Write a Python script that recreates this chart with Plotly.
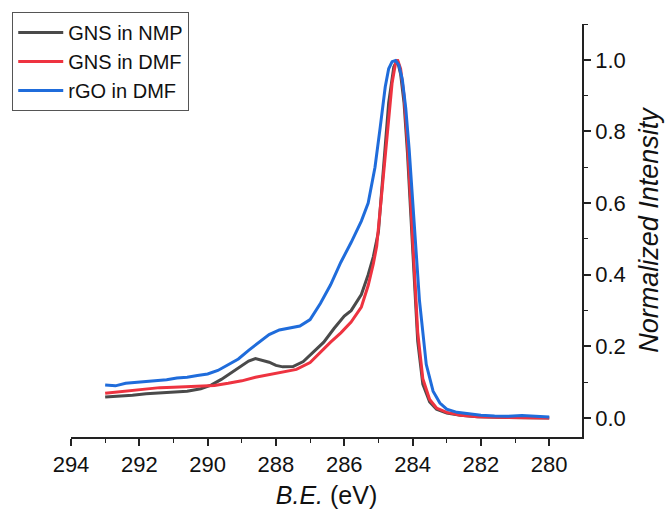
import plotly.graph_objects as go

series_names = ["GNS in NMP", "GNS in DMF", "rGO in DMF"]
series_colors = ["#4a4a4a", "#ee3340", "#1f6cdb"]

be_nmp = [293.0, 292.6, 292.2, 291.8, 291.4, 291.0, 290.6, 290.2, 289.9, 289.6, 289.3, 289.0,
          288.8, 288.6, 288.4, 288.2, 288.0, 287.8, 287.5, 287.2, 286.9, 286.6, 286.3, 286.0,
          285.8, 285.5, 285.3, 285.15, 285.0, 284.85, 284.7, 284.55, 284.45, 284.35, 284.25,
          284.15, 284.05, 283.95, 283.85, 283.7, 283.5, 283.3, 283.0, 282.6, 282.1, 281.5,
          281.0, 280.5, 280.0]
int_nmp = [0.059, 0.061, 0.064, 0.068, 0.071, 0.073, 0.075, 0.082, 0.092, 0.108, 0.128, 0.147,
           0.159, 0.166, 0.160, 0.156, 0.147, 0.143, 0.144, 0.158, 0.185, 0.212, 0.250, 0.285,
           0.300, 0.345, 0.400, 0.450, 0.520, 0.700, 0.880, 0.980, 1.000, 0.960, 0.880,
           0.740, 0.560, 0.370, 0.215, 0.095, 0.045, 0.025, 0.014, 0.008, 0.004, 0.002,
           0.001, 0.001, 0.000]

be_dmf = [293.0, 292.6, 292.2, 291.8, 291.4, 291.0, 290.6, 290.2, 289.8, 289.4, 289.0, 288.6,
          288.2, 287.8, 287.4, 287.0, 286.7, 286.4, 286.1, 285.8, 285.5, 285.3, 285.15, 285.05,
          284.9, 284.75, 284.6, 284.5, 284.44, 284.35, 284.25, 284.15, 284.05, 283.95, 283.85,
          283.7, 283.5, 283.3, 283.0, 282.6, 282.1, 281.5, 281.0, 280.5, 280.0]
int_dmf = [0.069, 0.073, 0.078, 0.082, 0.085, 0.086, 0.087, 0.088, 0.091, 0.097, 0.104, 0.114,
           0.121, 0.128, 0.136, 0.155, 0.185, 0.212, 0.238, 0.268, 0.310, 0.370, 0.430, 0.480,
           0.630, 0.790, 0.935, 0.990, 1.000, 0.975, 0.900, 0.770, 0.590, 0.400, 0.240,
           0.110, 0.052, 0.028, 0.016, 0.008, 0.004, 0.002, 0.001, 0.001, 0.000]

be_rgo = [293.0, 292.7, 292.4, 292.1, 291.8, 291.5, 291.2, 290.9, 290.6, 290.3, 290.0, 289.7,
          289.4, 289.1, 288.8, 288.5, 288.2, 287.9, 287.6, 287.3, 287.0, 286.7, 286.4, 286.1,
          285.8, 285.5, 285.3, 285.1, 284.95, 284.8, 284.7, 284.6, 284.5, 284.4, 284.3, 284.2,
          284.1, 284.0, 283.9, 283.8, 283.6, 283.4, 283.2, 283.0, 282.7, 282.4, 282.0, 281.6,
          281.2, 280.8, 280.4, 280.0]
int_rgo = [0.092, 0.090, 0.097, 0.099, 0.101, 0.104, 0.107, 0.112, 0.114, 0.119, 0.123, 0.133,
           0.150, 0.165, 0.189, 0.212, 0.233, 0.246, 0.251, 0.257, 0.275, 0.320, 0.372, 0.435,
           0.490, 0.550, 0.600, 0.700, 0.810, 0.925, 0.975, 0.995, 0.998, 0.985, 0.945, 0.865,
           0.750, 0.600, 0.458, 0.330, 0.150, 0.075, 0.042, 0.025, 0.016, 0.012, 0.008, 0.006,
           0.005, 0.007, 0.004, 0.003]

x_ticks = [294, 292, 290, 288, 286, 284, 282, 280]
y_ticks = [0.0, 0.2, 0.4, 0.6, 0.8, 1.0]

FONT = "Liberation Sans, Arial, sans-serif"

fig = go.Figure()
for name, color, xs, ys in zip(series_names, series_colors,
                               [be_nmp, be_dmf, be_rgo], [int_nmp, int_dmf, int_rgo]):
    fig.add_trace(go.Scatter(x=xs, y=ys, mode="lines", name=name,
                             line=dict(color=color, width=3)))

fig.update_layout(
    width=665, height=512,
    margin=dict(l=68, r=83, t=22, b=75),
    paper_bgcolor="white", plot_bgcolor="white",
    font=dict(family=FONT, color="#111111", size=20),
    showlegend=True,
    legend=dict(x=-0.115, y=1.029, xanchor="left", yanchor="top",
                bgcolor="white", bordercolor="#555555", borderwidth=1,
                font=dict(size=20, family=FONT, color="#111111"),
                itemwidth=45, tracegroupgap=0),
    xaxis=dict(range=[294, 279.04], tickvals=x_ticks, automargin=False,
               ticktext=[str(v) for v in x_ticks],
               showgrid=False, zeroline=False,
               showline=True, linecolor="#222222", linewidth=1.5,
               ticks="outside", ticklen=7, tickwidth=1.5, tickcolor="#222222",
               minor=dict(dtick=1, ticks="outside", ticklen=4, tickwidth=1.2, tickcolor="#222222"),
               tickfont=dict(size=22, family=FONT),
               title=dict(text="<i>B.E.</i> (eV)", font=dict(size=25, family=FONT), standoff=10)),
    yaxis=dict(range=[-0.0528, 1.1], side="right", tickvals=y_ticks, automargin=False,
               ticktext=[f"{v:.1f}" for v in y_ticks],
               showgrid=False, zeroline=False,
               showline=True, linecolor="#222222", linewidth=1.5,
               ticks="outside", ticklen=7, tickwidth=1.5, tickcolor="#222222",
               minor=dict(dtick=0.1, tick0=0, ticks="outside", ticklen=4, tickwidth=1.2, tickcolor="#222222"),
               tickfont=dict(size=22, family=FONT),
               title=dict(text="<i>Normalized Intensity</i>", font=dict(size=27, family=FONT), standoff=14)),
)

fig.write_html("out.html")
